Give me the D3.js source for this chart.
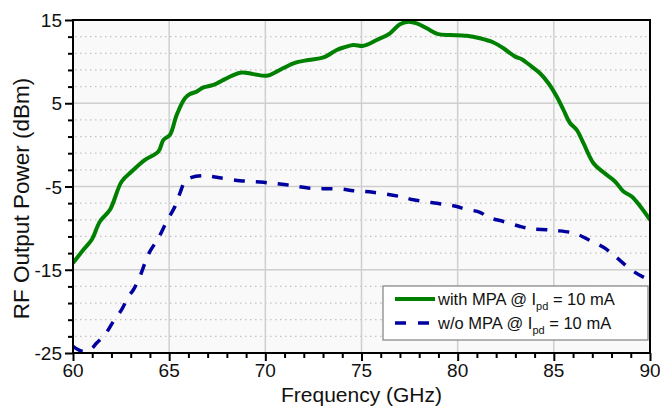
<!DOCTYPE html>
<html><head><meta charset="utf-8">
<script src="https://cdn.jsdelivr.net/npm/d3@7"></script>
<style>html,body{margin:0;padding:0;background:#fff;}svg{display:block;font-family:"Liberation Sans",Arial,sans-serif;}</style>
</head><body><svg id="c" width="660" height="409"></svg>
<script>
const withFreq = [60.0,60.54,60.97,61.4,61.92,62.53,63.05,63.74,64.44,64.7,65.04,65.39,65.82,66.08,66.43,66.78,67.3,67.9,68.25,68.77,69.38,70.07,70.59,71.46,72.24,73.02,73.71,74.06,74.58,75.1,75.79,76.48,77.0,77.44,77.87,78.39,78.99,79.6,80.47,81.16,81.86,82.38,82.99,83.33,83.85,84.28,84.72,85.15,85.5,85.85,86.19,86.54,87.06,87.58,88.18,88.62,89.05,89.5,90.0];
const withPower = [-14.2,-12.6,-11.4,-9.2,-7.8,-4.4,-3.2,-1.8,-0.8,0.6,1.2,3.6,5.6,6.1,6.4,6.9,7.2,7.9,8.3,8.7,8.5,8.3,8.8,9.8,10.2,10.5,11.4,11.7,12.0,11.9,12.6,13.4,14.5,14.8,14.6,14.0,13.3,13.2,13.1,12.8,12.3,11.6,10.6,10.3,9.4,8.6,7.4,5.8,4.2,2.6,1.8,0.2,-2.2,-3.3,-4.4,-5.6,-6.2,-7.4,-9.0];
const woFreq = [60.0,60.5,60.9,61.23,61.66,62.1,62.53,62.88,63.14,63.48,63.74,64.0,64.44,64.87,65.3,65.56,65.82,66.17,66.86,67.47,68.68,69.9,71.1,72.32,73.9,74.58,75.6,77.0,77.7,79.17,79.95,80.38,81.16,81.6,82.38,83.25,83.85,84.63,85.15,85.85,86.28,86.97,87.58,88.1,88.45,89.14,89.75,90.0];
const woPower = [-24.2,-24.8,-24.6,-23.8,-22.8,-21.2,-19.8,-18.2,-17.4,-15.8,-14.2,-12.8,-11.2,-9.2,-7.4,-5.8,-4.4,-3.9,-3.7,-3.9,-4.3,-4.5,-4.8,-5.2,-5.3,-5.5,-5.7,-6.2,-6.6,-7.1,-7.4,-7.7,-8.1,-8.7,-9.2,-9.8,-10.1,-10.2,-10.3,-10.5,-10.8,-11.6,-12.3,-13.2,-13.9,-15.2,-16.0,-16.3];
const xTickLabels = [60,65,70,75,80,85,90];
const yTickLabels = [15,5,-5,-15,-25];
const seriesNames = ["with MPA @ I", "w/o MPA @ I"];

const svg = d3.select("#c");
const L=73,R=650,T=20,B=353;
const x = d3.scaleLinear().domain([60,90]).range([L,R]);
const y = d3.scaleLinear().domain([-25,15]).range([B,T]);

svg.append("rect").attr("x",L).attr("y",T).attr("width",R-L).attr("height",B-T).attr("fill","#f9f9f9");

// minor dotted horizontal grid
svg.append("g").selectAll("line").data(d3.range(-23,15,2)).join("line")
  .attr("x1",L+2).attr("x2",R-2).attr("y1",d=>y(d)).attr("y2",d=>y(d))
  .attr("stroke","#c4c4c4").attr("stroke-width",1.2).attr("stroke-dasharray","1.5,3.5");
// major grid
svg.append("g").selectAll("line").data([5,-5,-15]).join("line")
  .attr("x1",L).attr("x2",R).attr("y1",d=>y(d)).attr("y2",d=>y(d))
  .attr("stroke","#cfcfcf").attr("stroke-width",1.5);
svg.append("g").selectAll("line").data([65,70,75,80,85]).join("line")
  .attr("y1",T).attr("y2",B).attr("x1",d=>x(d)).attr("x2",d=>x(d))
  .attr("stroke","#cfcfcf").attr("stroke-width",1.5);

// lines
const line = d3.line().x(d=>x(d[0])).y(d=>y(d[1])).curve(d3.curveCatmullRom.alpha(0.5));
svg.append("clipPath").attr("id","pc").append("rect").attr("x",L).attr("y",T-3).attr("width",R-L).attr("height",B-T+6);
svg.append("path").datum(woFreq.map((f,i)=>[f,woPower[i]])).attr("d",line)
  .attr("fill","none").attr("stroke","#0000a0").attr("stroke-width",3.5).attr("stroke-dasharray","11,11").attr("clip-path","url(#pc)");
svg.append("path").datum(withFreq.map((f,i)=>[f,withPower[i]])).attr("d",line)
  .attr("fill","none").attr("stroke","#008000").attr("stroke-width",4).attr("stroke-linejoin","round").attr("clip-path","url(#pc)");

// axes
const xAxis = d3.axisBottom(x).tickValues(d3.range(60,91,1)).tickSize(5).tickFormat("");
const gx = svg.append("g").attr("transform",`translate(0,${B})`).call(xAxis);
gx.selectAll(".tick line").attr("y2",d=>d%5===0?8:5).attr("stroke","#000").attr("stroke-width",2);
gx.select(".domain").remove();
svg.append("g").selectAll("text").data(xTickLabels).join("text")
  .attr("x",d=>x(d)).attr("y",B+24).attr("text-anchor","middle").attr("font-size",19).attr("fill","#111").text(d=>d);

const yAxis = d3.axisLeft(y).tickValues(d3.range(-25,16,2)).tickSize(5).tickFormat("");
const gy = svg.append("g").attr("transform",`translate(${L},0)`).call(yAxis);
gy.selectAll(".tick line").attr("x2",d=>yTickLabels.includes(d)?-8:-5).attr("stroke","#000").attr("stroke-width",2);
gy.select(".domain").remove();
svg.append("g").selectAll("text").data(yTickLabels).join("text")
  .attr("x",L-11).attr("y",d=>y(d)+7).attr("text-anchor","end").attr("font-size",19).attr("fill","#111").text(d=>d);

// frame
svg.append("rect").attr("x",L).attr("y",T).attr("width",R-L).attr("height",B-T)
  .attr("fill","none").attr("stroke","#000").attr("stroke-width",2);

// titles
svg.append("text").attr("x",(L+R)/2).attr("y",402).attr("text-anchor","middle").attr("font-size",21).attr("fill","#111").text("Frequency (GHz)");
svg.append("text").attr("transform",`translate(29,${(T+B)/2+12}) rotate(-90)`).attr("text-anchor","middle").attr("font-size",22.5).attr("fill","#111").text("RF Output Power (dBm)");

// legend
const lg = svg.append("g");
lg.append("rect").attr("x",383).attr("y",286).attr("width",265).attr("height",54).attr("fill","#fff").attr("stroke","#808080").attr("stroke-width",1.2);
const legItems = [{c:"#008000",dash:null,w:4,name:seriesNames[0]},{c:"#0000a0",dash:"11,12",w:3.5,name:seriesNames[1]}];
legItems.forEach((it,i)=>{
  const yy = 299 + i*24;
  lg.append("line").attr("x1",395).attr("x2",435).attr("y1",yy).attr("y2",yy)
    .attr("stroke",it.c).attr("stroke-width",it.w).attr("stroke-dasharray",it.dash);
  const t = lg.append("text").attr("x",438).attr("y",yy+6).attr("font-size",16.5).attr("fill","#111");
  t.append("tspan").text(it.name);
  t.append("tspan").attr("font-size",11).attr("dy",5).text("pd");
  t.append("tspan").attr("dy",-5).text(" = 10 mA");
});
</script></body></html>
